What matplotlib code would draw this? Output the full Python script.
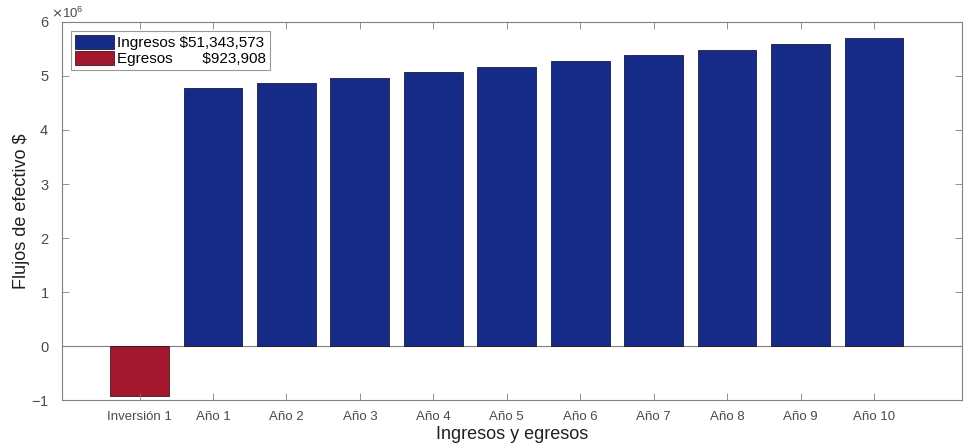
import matplotlib
matplotlib.use('Agg')
import matplotlib.pyplot as plt
from matplotlib.ticker import ScalarFormatter
import numpy as np

plt.rcParams['font.family'] = ['Liberation Sans', 'DejaVu Sans']

categories = ['Inversión 1', 'Año 1', 'Año 2', 'Año 3', 'Año 4', 'Año 5',
              'Año 6', 'Año 7', 'Año 8', 'Año 9', 'Año 10']
ingresos = [0, 4.77e6, 4.87e6, 4.97e6, 5.07e6, 5.17e6,
            5.27e6, 5.38e6, 5.48e6, 5.59e6, 5.70e6]
egresos = [-0.924e6, 0, 0, 0, 0, 0, 0, 0, 0, 0, 0]
legend_labels = ['Ingresos $51,343,573', 'Egresos       $923,908']

blue = '#162A88'
red = '#A3172F'
axis_grey = '#808080'
text_grey = '#4a4a4a'

fig = plt.figure(figsize=(9.64, 4.48), dpi=100)
ax = fig.add_axes([0.064, 0.107, 0.934, 0.844])

x = np.arange(1, len(categories) + 1)
ax.bar(x, ingresos, 0.8, color=blue, edgecolor='#1a1a3a', linewidth=0.6,
       label=legend_labels[0])
ax.bar(x, egresos, 0.8, color=red, edgecolor='#3a1a1a', linewidth=0.6,
       label=legend_labels[1])
ax.axhline(0, color=axis_grey, linewidth=0.8, zorder=0)

ax.set_xlim(-0.06, 12.2)
ax.set_ylim(-1e6, 6e6)
ax.set_xticks(x)
ax.set_xticklabels(categories)
ax.set_yticks(np.arange(-1, 7) * 1e6)

fmt = ScalarFormatter(useMathText=True)
fmt.set_powerlimits((0, 0))
ax.yaxis.set_major_formatter(fmt)
offset = ax.yaxis.get_offset_text()
offset.set_fontsize(9.5)
offset.set_color(text_grey)
offset.set_x(-0.012)

ax.tick_params(axis='both', direction='in', top=True, right=True,
               length=5, width=0.6, color=axis_grey, labelcolor=text_grey)
ax.tick_params(axis='x', labelsize=9.5, pad=8)
ax.tick_params(axis='y', labelsize=10.5, pad=9)
for s in ax.spines.values():
    s.set_color(axis_grey)
    s.set_linewidth(0.8)

ax.set_xlabel('Ingresos y egresos', fontsize=13, color='#202020', labelpad=2)
ax.set_ylabel('Flujos de efectivo $', fontsize=13, color='#202020', labelpad=1)

leg = ax.legend(loc='upper left', bbox_to_anchor=(0.01, 0.975), fontsize=11,
                frameon=True, fancybox=False, edgecolor=axis_grey,
                handlelength=2.6, handleheight=1.0, handletextpad=0.2,
                borderpad=0.25, labelspacing=0.05, borderaxespad=0)
leg.get_frame().set_linewidth(0.8)

fig.savefig('out.png', dpi=100)
